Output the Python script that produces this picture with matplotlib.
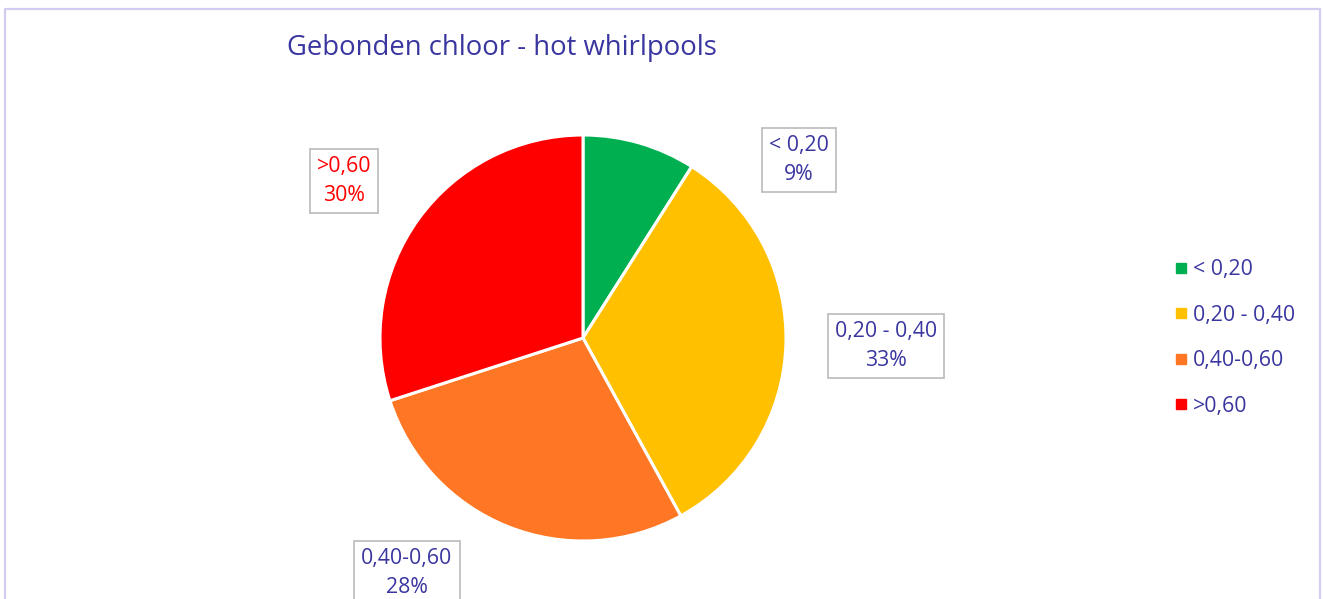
import matplotlib.pyplot as plt
from matplotlib.lines import Line2D

# data
categories = ['< 0,20', '0,20 - 0,40', '0,40-0,60', '>0,60']
shares = [9, 33, 28, 30]
colors = ['#00B050', '#FFC000', '#FF7724', '#FF0000']
label_colors = ['#3A36A0', '#3A36A0', '#3A36A0', '#FF0000']
title = 'Gebonden chloor - hot whirlpools'

plt.rcParams['font.family'] = ['Open Sans', 'DejaVu Sans']
text_col = '#3A36A0'

W, H = 1323, 599
fig = plt.figure(figsize=(W / 100, H / 100), dpi=100)
ax = fig.add_axes([0, 0, 1, 1])

# outer chart border (bottom is cut off in the original)
border = '#D2CCF0'
ax.plot([5, 5, 1319.5, 1319.5], [-5, H - 9, H - 9, -5], color=border, lw=1.6)

# pie
cx, cy, r = 583, H - 338, 203
wedges, _ = ax.pie(shares, colors=colors, startangle=90, counterclock=False,
                   center=(cx, cy), radius=r, frame=True,
                   wedgeprops=dict(edgecolor='white', linewidth=2.2))
ax.set_xlim(0, W)
ax.set_ylim(0, H)
ax.set_aspect('equal')
ax.axis('off')

# data labels in boxes
label_pos = [(799, 160), (886, 346), (407, 573), (344, 181)]
for cat, val, col, (lx, ly) in zip(categories, shares, label_colors, label_pos):
    ax.text(lx, H - ly, f'{cat}\n{val}%', color=col, fontsize=15.3,
            ha='center', va='center', linespacing=1.5,
            bbox=dict(boxstyle='square,pad=0.33', fc='white', ec='#BFBFBF', lw=1.3))

# title
ax.text(287, H - 48, title, color=text_col, fontsize=19.8, ha='left', va='center')

# legend
handles = [Line2D([], [], marker='s', ls='', color=c, markersize=7.5) for c in colors]
leg = ax.legend(handles, categories, loc='center left', bbox_to_anchor=(1175 / W, 1 - 338 / H),
                frameon=False, fontsize=15.3, labelspacing=1.15, handlelength=0.6,
                handletextpad=0.25, borderaxespad=0, borderpad=0)
for t in leg.get_texts():
    t.set_color(text_col)

fig.savefig('out.png', dpi=100)
